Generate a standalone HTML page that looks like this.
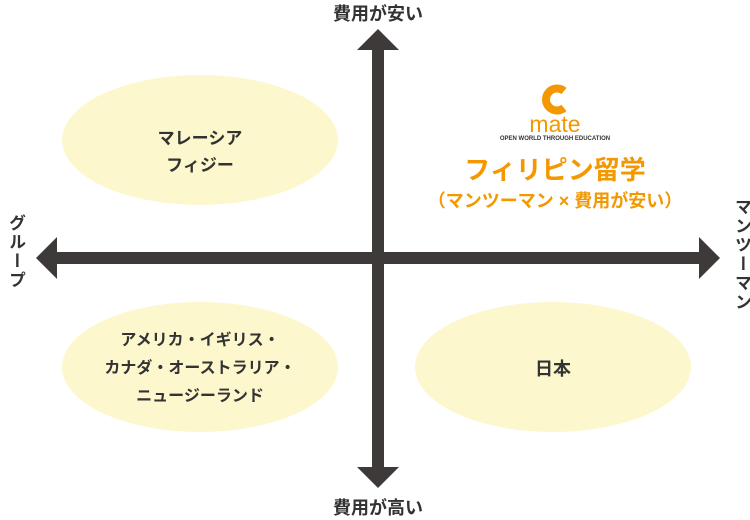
<!DOCTYPE html>
<html><head><meta charset="utf-8"><style>
body{margin:0;width:750px;height:518px;background:#fff;overflow:hidden;position:relative;font-family:"Liberation Sans","Noto Sans CJK JP",sans-serif;color:#333;}
.t{position:absolute;font-weight:bold;text-align:center;white-space:nowrap;}
.v{position:absolute;writing-mode:vertical-rl;font-weight:bold;font-size:17px;color:#333;letter-spacing:2px;}
</style></head><body>
<svg width="750" height="518" style="position:absolute;left:0;top:0">
<ellipse cx="200" cy="140" rx="138" ry="65" fill="#fdf7cd"/>
<ellipse cx="200" cy="367" rx="138" ry="65" fill="#fdf7cd"/>
<ellipse cx="553" cy="367" rx="138" ry="65" fill="#fdf7cd"/>
<g fill="#3e3a39">
<rect x="54" y="252" width="650" height="12"/>
<polygon points="36,258 57,237 57,279"/>
<polygon points="720,258 699,237 699,279"/>
<rect x="372" y="48" width="12" height="424"/>
<polygon points="378,29 357,50 399,50"/>
<polygon points="378,488 357,467 399,467"/>
</g>
<path d="M564 108 A11 11 0 1 1 564 91" stroke="#f39800" stroke-width="8" fill="none"/>
</svg>
<div class="t" style="left:303px;top:0px;width:150px;font-size:18px">費用が安い</div>
<div class="t" style="left:303px;top:494px;width:150px;font-size:18px">費用が高い</div>
<div class="v" style="left:3px;top:214px">グループ</div>
<div class="v" style="left:729px;top:198px">マンツーマン</div>
<div class="t" style="left:100px;top:125px;width:200px;font-size:17px;line-height:27px">マレーシア<br>フィジー</div>
<div class="t" style="left:100px;top:327px;width:200px;font-size:16px;line-height:28px">アメリカ・イギリス・<br>カナダ・オーストラリア・<br>ニュージーランド</div>
<div class="t" style="left:503px;top:355px;width:100px;font-size:18px">日本</div>
<div class="t" style="left:500px;top:111px;width:110px;font-size:23px;color:#f39800;font-weight:normal">mate</div>
<div class="t" style="left:480px;top:136px;width:150px;font-size:6px;color:#333">OPEN WORLD THROUGH EDUCATION</div>
<div class="t" style="left:430px;top:150px;width:250px;font-size:26px;color:#f39800">フィリピン留学</div>
<div class="t" style="left:400px;top:187px;width:310px;font-size:18px;color:#f39800">（マンツーマン × 費用が安い）</div>
</body></html>
